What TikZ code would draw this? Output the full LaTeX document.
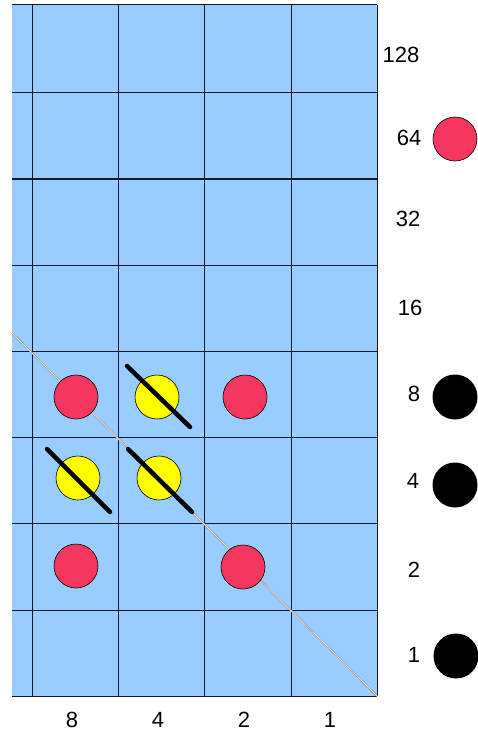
\documentclass[tikz,border=0pt]{standalone}
\usepackage{fontspec}
\setmainfont{Liberation Sans}
\definecolor{cellblue}{RGB}{153,204,255}
\definecolor{dotred}{RGB}{245,55,95}
\definecolor{dotyellow}{RGB}{255,255,0}
\definecolor{gridline}{RGB}{15,25,45}
\tikzset{
  dotr/.style={circle,draw=black,line width=0.6pt,fill=dotred,minimum size=44pt,inner sep=0pt},
  doty/.style={circle,draw=black,line width=0.6pt,fill=dotyellow,minimum size=44pt,inner sep=0pt},
  dotb/.style={circle,fill=black,minimum size=45pt,inner sep=0pt},
  lbl/.style={font=\fontsize{22}{25}\selectfont,inner sep=0pt},
  slash/.style={line width=4.5pt,black,line cap=round},
  gridl/.style={gridline,line width=1pt}
}
\begin{document}
\begin{tikzpicture}[x=1pt,y=-1pt]
\useasboundingbox (0,0) rectangle (478,738);
% background cells
\fill[cellblue] (12,5) rectangle (377,696);
% grid
\foreach \x in {32,118,204,291} \draw[gridl] (\x,5) -- (\x,696);
\foreach \y in {5,93,179,265,351,437,523,610,696} \draw[gridl] (12,\y) -- (377,\y);
\draw[gridl] (377,5) -- (377,696);
% diagonal
\coordinate (d1) at (12,333);
\coordinate (d2) at (377,696);
\draw[gray!85,line width=1.8pt] (d1) -- (d2);
\draw[white,line width=0.5pt] (d1) -- (d2);
% dots in grid
\node[dotr] (r1) at (76,397) {};
\node[doty] (y1) at (157,397) {};
\node[dotr] (r2) at (245,397) {};
\node[doty] (y2) at (78,478) {};
\node[doty] (y3) at (159,478) {};
\node[dotr] (r3) at (76,566) {};
\node[dotr] (r4) at (243,567) {};
\draw[slash] (127,366) -- (190,427);
\draw[slash] (47,449) -- (110,512);
\draw[slash] (128,449) -- (192,512);
% right labels
\node[lbl] (l128) at (401,55) {128};
\node[lbl] (l64) at (409,138) {64};
\node[lbl] (l32) at (408,219) {32};
\node[lbl] (l16) at (410,308) {16};
\node[lbl] (l8) at (414,394) {8};
\node[lbl] (l4) at (413,481) {4};
\node[lbl] (l2) at (414,570) {2};
\node[lbl] (l1) at (414,655) {1};
% right dots
\node[dotr] (rr) at (455,139) {};
\node[dotb] (b8) at (455,397) {};
\node[dotb] (b4) at (455,485) {};
\node[dotb] (b1) at (456,656) {};
% bottom labels
\node[lbl] (c8) at (72,720) {8};
\node[lbl] (c4) at (158,720) {4};
\node[lbl] (c2) at (244,720) {2};
\node[lbl] (c1) at (330,720) {1};
\end{tikzpicture}
\end{document}
